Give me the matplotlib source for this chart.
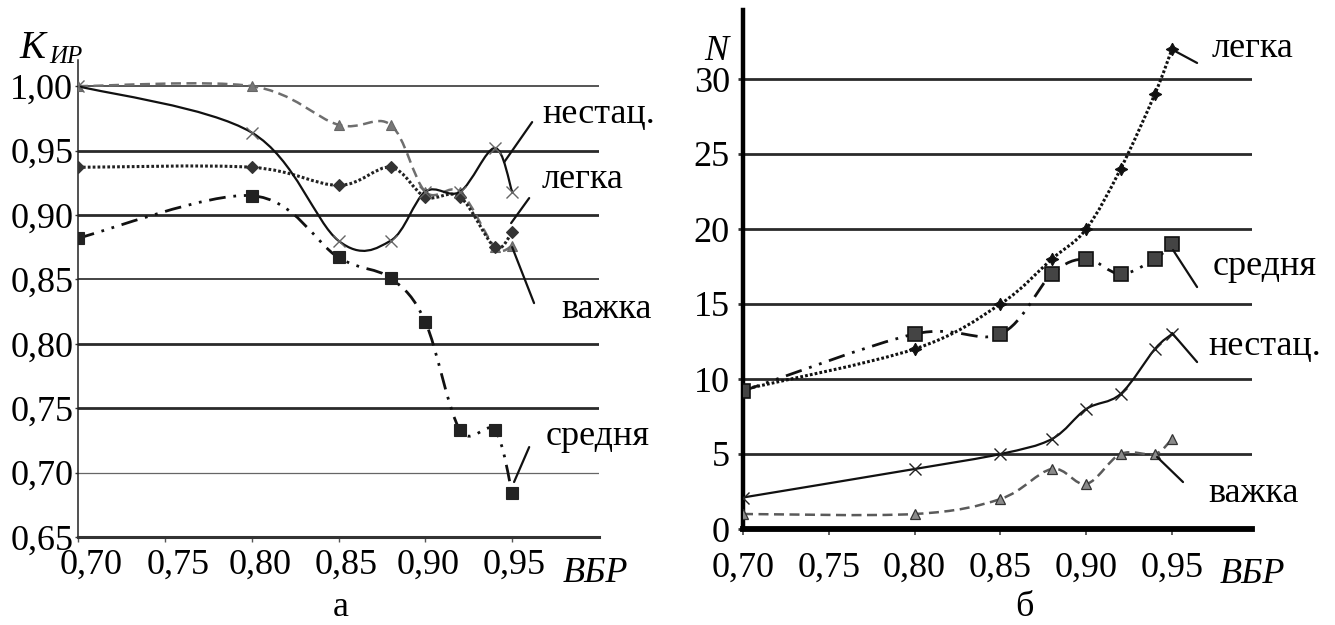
import numpy as np
import matplotlib
matplotlib.use("Agg")
import matplotlib.pyplot as plt
from matplotlib.path import Path
from matplotlib.patches import PathPatch
from matplotlib.transforms import ScaledTranslation

# ---------------- data ----------------
vbr = [0.70, 0.80, 0.85, 0.88, 0.90, 0.92, 0.94, 0.95]
series_names = ["нестац.", "легка", "важка", "средня"]

# panel а : K_ИР
k_nestats = [1.000, 0.964, 0.880, 0.880, 0.918, 0.918, 0.952, 0.918]
k_legka = [0.937, 0.937, 0.923, 0.937, 0.914, 0.914, 0.875, 0.887]
k_vazhka = [1.000, 1.000, 0.970, 0.970, 0.918, 0.918, 0.875, 0.876]
k_serednia = [0.882, 0.915, 0.867, 0.851, 0.817, 0.733, 0.733, 0.684]

# panel б : N
n_nestats = [2.1, 4.0, 5.0, 6.0, 8.0, 9.0, 12.0, 13.0]
n_legka = [9.3, 12.0, 15.0, 18.0, 20.0, 24.0, 29.0, 32.0]
n_vazhka = [1.0, 1.0, 2.0, 4.0, 3.0, 5.0, 5.0, 6.0]
n_serednia = [9.2, 13.0, 13.0, 17.0, 18.0, 17.0, 18.0, 19.0]

x_ticks = [0.70, 0.75, 0.80, 0.85, 0.90, 0.95]
x_tick_labels = ["0,70", "0,75", "0,80", "0,85", "0,90", "0,95"]
k_ticks = [0.65, 0.70, 0.75, 0.80, 0.85, 0.90, 0.95, 1.00]
k_tick_labels = ["0,65", "0,70", "0,75", "0,80", "0,85", "0,90", "0,95", "1,00"]
n_ticks = [0, 5, 10, 15, 20, 25, 30]
n_tick_labels = ["0", "5", "10", "15", "20", "25", "30"]

# ---------------- style ----------------
W, H = 1335, 625
SERIF = ["Liberation Serif", "DejaVu Serif"]
FS = 26
plt.rcParams["font.family"] = SERIF

fig = plt.figure(figsize=(W / 100, H / 100), dpi=100)


def fx(px):
    return px / W


def fy(py):
    return 1 - py / H


def smooth_path(xs, ys):
    P = np.column_stack([xs, ys]).astype(float)
    n = len(P)
    verts = [P[0]]
    codes = [Path.MOVETO]
    for i in range(n - 1):
        p0 = P[max(i - 1, 0)]
        p1 = P[i]
        p2 = P[i + 1]
        p3 = P[min(i + 2, n - 1)]
        verts += [p1 + (p2 - p0) / 6.0, p2 - (p3 - p1) / 6.0, p2]
        codes += [Path.CURVE4] * 3
    return Path(verts, codes)


def draw_series(ax, xs, ys, color, lw, ls, marker, ms, mfc, mec, mew, z):
    ax.add_patch(PathPatch(smooth_path(xs, ys), facecolor="none",
                           edgecolor=color, lw=lw, linestyle=ls, zorder=z,
                           capstyle="butt"))
    ax.plot(xs, ys, linestyle="none", marker=marker, ms=ms, mfc=mfc,
            mec=mec, mew=mew, zorder=z + 0.5)


LS_DASH = (0, (4.0, 2.2))
LS_DOT = (0, (0.9, 0.7))
LS_DASHDOT = (0, (6.0, 2.8, 1.0, 2.8, 1.0, 2.8))

# ================= panel а =================
axL = fig.add_axes([fx(78), fy(537), fx(599 - 78), (537 - 60) / H])
axL.set_xlim(0.70, 1.0)
axL.set_ylim(0.65, 1.0203)
axL.set_xticks(x_ticks)
axL.set_xticklabels(x_tick_labels, fontsize=FS)
axL.set_yticks(k_ticks)
axL.set_yticklabels(k_tick_labels, fontsize=FS)
axL.tick_params(axis="x", direction="out", length=3.6, width=1.0,
                color="#555555", pad=5)
axL.tick_params(axis="y", direction="out", length=2.5, width=1.0,
                color="#333333", pad=1)
for sp in ("top", "right"):
    axL.spines[sp].set_visible(False)
axL.spines["left"].set_linewidth(1.1)
axL.spines["left"].set_color("#222222")
axL.spines["bottom"].set_linewidth(2.2)
axL.spines["bottom"].set_color("#333333")
axL.grid(axis="y", color="#2a2a2a", lw=2.0, zorder=0)
axL.set_axisbelow(True)
gl_w = [2.0, 0.9, 2.0, 2.0, 1.1, 2.0, 2.0, 1.4]
gl_c = ["#333333", "#666666", "#2a2a2a", "#2a2a2a", "#111111", "#2a2a2a",
        "#2a2a2a", "#555555"]
for g, w, c in zip(axL.get_ygridlines(), gl_w, gl_c):
    g.set_linewidth(w)
    g.set_color(c)

# per-label horizontal offsets of the x tick labels (pixels)
lab_dx = [13, 13, 8, 8, 3, 2]
for lab, dx in zip(axL.get_xticklabels(), lab_dx):
    lab.set_transform(lab.get_transform() +
                      ScaledTranslation(dx / 100, 0, fig.dpi_scale_trans))

draw_series(axL, vbr, k_vazhka, "#6e6e6e", 1.8, LS_DASH, "^", 7.5,
            "#777777", "#666666", 0.8, 3)
draw_series(axL, vbr, k_legka, "#222222", 2.2, LS_DOT, "D", 6.0,
            "#333333", "#333333", 0.8, 4)
draw_series(axL, vbr, k_serednia, "#111111", 2.0, LS_DASHDOT, "s", 8.0,
            "#222222", "#222222", 0.8, 5)
draw_series(axL, vbr, k_nestats, "#111111", 1.6, "-", "x", 8.5,
            "none", "#666666", 1.0, 6)

# series labels with leader lines (panel а)
labL = {"нестац.": (0.9672, 0.9713), "легка": (0.9672, 0.9208),
        "важка": (0.9782, 0.8200), "средня": (0.9695, 0.7214)}
leadL = {"нестац.": ((0.9454, 0.9410), (0.9615, 0.9721)),
         "легка": ((0.9494, 0.8937), (0.9598, 0.9131)),
         "важка": ((0.9500, 0.8750), (0.9626, 0.8316)),
         "средня": ((0.9511, 0.6927), (0.9598, 0.7198))}
for name in series_names:
    x0, y0 = labL[name]
    axL.text(x0, y0, name, fontsize=FS, ha="left", va="baseline",
             clip_on=False, zorder=8)
    a, b = leadL[name]
    axL.annotate("", xy=a, xytext=b, annotation_clip=False,
                 arrowprops=dict(arrowstyle="-", lw=1.6, color="#111111",
                                 shrinkA=0, shrinkB=0), zorder=7)

# ================= panel б =================
axR = fig.add_axes([fx(743), fy(529), fx(1252 - 743), (529 - 10) / H])
axR.set_xlim(0.70, 0.9966)
axR.set_ylim(0, 34.6)
axR.set_xticks(x_ticks)
axR.set_xticklabels(x_tick_labels, fontsize=FS)
axR.set_yticks(n_ticks)
axR.set_yticklabels(n_tick_labels, fontsize=FS)
axR.tick_params(axis="x", direction="out", length=4.5, width=1.2,
                color="#444444", pad=12)
axR.tick_params(axis="y", direction="out", length=3.5, width=2.0,
                color="#333333", pad=6)
for sp in ("top", "right"):
    axR.spines[sp].set_visible(False)
axR.spines["left"].set_linewidth(3.2)
axR.spines["left"].set_color("#000000")
axR.spines["bottom"].set_linewidth(4.2)
axR.spines["bottom"].set_color("#000000")
axR.grid(axis="y", color="#2a2a2a", lw=2.0, zorder=0)
axR.set_axisbelow(True)

draw_series(axR, vbr, n_vazhka, "#5a5a5a", 1.8, LS_DASH, "^", 7.5,
            "#8a8a8a", "#333333", 0.9, 3)
draw_series(axR, vbr, n_legka, "#111111", 2.2, LS_DOT, (4, 1, 0), 9.0,
            "#111111", "#111111", 0.8, 4)
draw_series(axR, vbr, n_serednia, "#111111", 2.0, LS_DASHDOT, "s", 9.5,
            "#444444", "#111111", 1.2, 5)
draw_series(axR, vbr, n_nestats, "#111111", 1.6, "-", "x", 9.0,
            "none", "#222222", 1.0, 6)

labR = {"нестац.": (0.9710, 11.6), "легка": (0.9733, 31.47),
        "важка": (0.9710, 1.8), "средня": (0.9739, 16.93)}
leadR = {"нестац.": ((0.9500, 13.07), (0.9646, 11.13)),
         "легка": ((0.9506, 31.93), (0.9646, 31.07)),
         "важка": ((0.9413, 4.80), (0.9564, 3.13)),
         "средня": ((0.9506, 18.60), (0.9646, 16.13))}
for name in series_names:
    x0, y0 = labR[name]
    axR.text(x0, y0, name, fontsize=FS, ha="left", va="baseline",
             clip_on=False, zorder=8)
    a, b = leadR[name]
    axR.annotate("", xy=a, xytext=b, annotation_clip=False,
                 arrowprops=dict(arrowstyle="-", lw=1.6, color="#111111",
                                 shrinkA=0, shrinkB=0), zorder=7)

# ================= axis titles & captions =================
fig.text(fx(19), fy(58), "K", fontsize=28, style="italic", ha="left",
         va="baseline")
fig.text(fx(49), fy(63), "ИР", fontsize=18, style="italic", ha="left",
         va="baseline")
fig.text(fx(704), fy(60), "N", fontsize=26, style="italic", ha="left",
         va="baseline")
fig.text(fx(563), fy(582), "ВБР", fontsize=FS, style="italic", ha="left",
         va="baseline")
fig.text(fx(1220), fy(583), "ВБР", fontsize=FS, style="italic", ha="left",
         va="baseline")
fig.text(fx(341), fy(616), "а", fontsize=FS, ha="center", va="baseline")
fig.text(fx(1024), fy(616), "б", fontsize=FS, ha="center", va="baseline")

fig.savefig("out.png", dpi=100, facecolor="white")
